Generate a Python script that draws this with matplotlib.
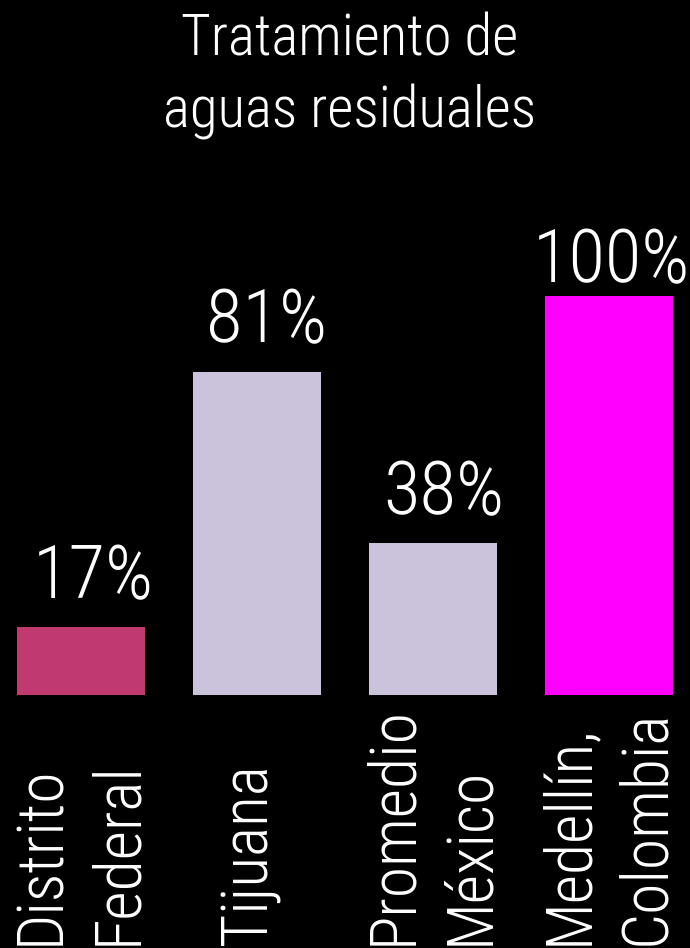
import matplotlib
matplotlib.use("Agg")
import matplotlib.pyplot as plt
import matplotlib.transforms as mtransforms
from matplotlib import font_manager

categories = [["Distrito", "Federal"], ["Tijuana"], ["Promedio", "México"], ["Medellín,", "Colombia"]]
values = [17, 81, 38, 100]
value_labels = ["17%", "81%", "38%", "100%"]
colors = ["#C0396F", "#CBC3DB", "#CBC3DB", "#FF00FF"]
title_lines = ["Tratamiento de", "aguas residuales"]

names = {f.name for f in font_manager.fontManager.ttflist}
fam = [n for n in ["Liberation Sans Narrow", "Arial Narrow", "Roboto Condensed",
                   "Archivo Narrow", "IBM Plex Sans Condensed"] if n in names][:1] + ["DejaVu Sans"]
plt.rcParams["font.family"] = fam
plt.rcParams["font.weight"] = 300

W, H = 690, 948
fig = plt.figure(figsize=(W / 100, H / 100), dpi=100, facecolor="black")
ax = fig.add_axes([0, 1 - 695 / H, 1, 399 / H])
ax.set_facecolor("black")
x = list(range(len(values)))
step = 176.0
ax.bar(x, values, width=128 / step, color=colors)
ax.set_xlim(-81 / step, 3 + 81 / step)
ax.set_ylim(0, 100)
ax.axis("off")

label_dx = [9, 7, 8, 2]
label_dy = [21, 21.5, 21, 10]
for xi, v, lab, dx, dy in zip(x, values, value_labels, label_dx, label_dy):
    ax.annotate(lab, (xi, v), xytext=(dx, dy), textcoords="offset points",
                ha="center", va="baseline", color="white", fontsize=54)

trans = mtransforms.blended_transform_factory(ax.transData, fig.transFigure)
for xi, lines in zip(x, categories):
    offs = [-22, 55] if len(lines) == 2 else [9]
    for line, off in zip(lines, offs):
        ax.text(xi + off / step, 1 - 945 / H, line, transform=trans, rotation=90,
                rotation_mode="anchor", ha="left", va="baseline",
                color="white", fontsize=46, clip_on=False)

for line, base in zip(title_lines, [56, 128]):
    fig.text(350 / W, 1 - base / H, line, ha="center", va="baseline",
             color="white", fontsize=41)

fig.savefig("out.png", dpi=100, facecolor="black")
